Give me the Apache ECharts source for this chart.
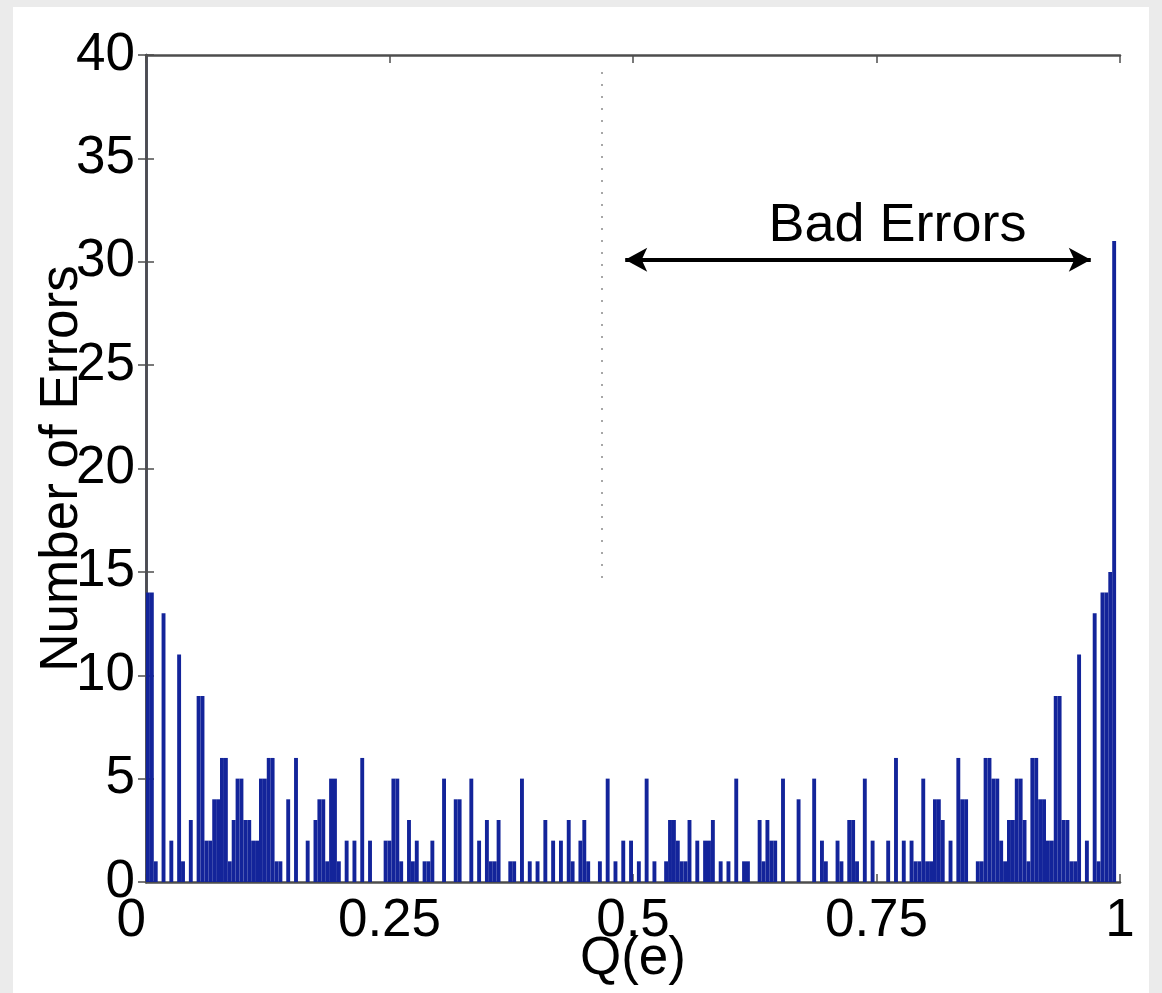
<!DOCTYPE html>
<html>
<head>
<meta charset="utf-8">
<title>Number of Errors vs Q(e)</title>
<script src="https://cdn.jsdelivr.net/npm/echarts@6/dist/echarts.min.js"></script>
<style>
  html, body { margin: 0; padding: 0; background: #ebebeb; }
  #paper { position: absolute; left: 13px; top: 7px; width: 1136px; height: 986px; background: #fff; }
  #chart { position: absolute; left: 0; top: 0; width: 1162px; height: 993px; }
</style>
</head>
<body>
<div id="paper"></div>
<div id="chart"></div>
<script>
// histogram of Q(e): 250 bins of width 0.004, counts
const counts = [
  14, 14, 1, 0, 13, 0, 2, 0, 11, 1,
  0, 3, 0, 9, 9, 2, 2, 4, 4, 6,
  6, 1, 3, 5, 5, 3, 3, 2, 2, 5,
  5, 6, 6, 1, 1, 0, 4, 0, 6, 0,
  0, 2, 0, 3, 4, 4, 1, 5, 5, 1,
  0, 2, 0, 2, 0, 6, 0, 2, 0, 0,
  0, 2, 2, 5, 5, 1, 0, 3, 1, 2,
  0, 1, 1, 2, 0, 0, 5, 0, 0, 4,
  4, 0, 0, 5, 0, 2, 0, 3, 1, 1,
  3, 0, 0, 1, 1, 0, 5, 0, 1, 0,
  1, 0, 3, 0, 2, 0, 2, 0, 3, 1,
  0, 2, 3, 1, 0, 0, 1, 0, 5, 0,
  1, 0, 2, 0, 2, 0, 1, 0, 5, 0,
  1, 0, 0, 1, 3, 3, 2, 1, 1, 3,
  0, 2, 0, 2, 2, 3, 0, 1, 0, 1,
  0, 5, 0, 1, 1, 0, 0, 3, 1, 3,
  2, 2, 0, 5, 0, 0, 0, 4, 0, 0,
  0, 5, 0, 2, 1, 0, 0, 2, 1, 0,
  3, 3, 1, 0, 5, 0, 2, 0, 0, 0,
  2, 0, 6, 0, 2, 0, 2, 1, 1, 5,
  1, 1, 4, 4, 3, 0, 2, 0, 6, 4,
  4, 0, 0, 1, 1, 6, 6, 5, 5, 2,
  1, 3, 3, 5, 5, 3, 1, 6, 6, 4,
  4, 2, 2, 9, 9, 3, 3, 1, 1, 11,
  0, 2, 0, 13, 1, 14, 14, 15, 31, 0
];
const bins = counts.map((c, i) => ((i + 0.5) / counts.length).toFixed(3));

const xTicks = [0, 0.25, 0.5, 0.75, 1];
const yTicks = [0, 5, 10, 15, 20, 25, 30, 35, 40];

// dotted separator and the "Bad Errors" arrow, in data units
const cutLine = [[0.468, 14.7], [0.468, 39.2]];
const badArrow = [[0.492, 30.1], [0.970, 30.1]];
const badLabel = [0.772, 31.7];

const font = 'Liberation Sans, Arial, Helvetica, sans-serif';
const axisColor = '#4d4d4d';
const fs = 53;

const chart = echarts.init(document.getElementById('chart'));

chart.setOption({
  animation: false,
  grid: { left: 146, top: 55, width: 974, height: 827, containLabel: false, outerBoundsMode: 'none' },
  xAxis: [
    {
      type: 'value',
      min: xTicks[0], max: xTicks[xTicks.length - 1], interval: 0.25,
      position: 'bottom',
      name: 'Q(e)', nameLocation: 'middle', nameGap: 51, nameMoveOverlap: false,
      nameTextStyle: { fontFamily: font, fontSize: fs, color: '#000' },
      axisLine: { lineStyle: { color: axisColor, width: 2.5 } },
      axisTick: { inside: true, length: 8, lineStyle: { color: axisColor, width: 1.5 } },
      axisLabel: { fontFamily: font, fontSize: fs, color: '#000', margin: 13, alignMinLabel: 'right' },
      splitLine: { show: false }
    },
    {
      type: 'category',
      data: bins,
      show: false
    },
    {
      type: 'value',
      min: xTicks[0], max: xTicks[xTicks.length - 1], interval: 0.25,
      position: 'top',
      axisLine: { lineStyle: { color: axisColor, width: 2.5 } },
      axisTick: { inside: true, length: 8, lineStyle: { color: axisColor, width: 1.5 } },
      axisLabel: { show: false },
      splitLine: { show: false }
    }
  ],
  yAxis: [
    {
      type: 'value',
      min: yTicks[0], max: yTicks[yTicks.length - 1], interval: 5,
      position: 'left',
      name: 'Number of Errors', nameLocation: 'middle', nameGap: 57, nameMoveOverlap: false,
      nameTextStyle: { fontFamily: font, fontSize: fs, color: '#000' },
      axisLine: { show: true, lineStyle: { color: '#2a2f6a', width: 2.5 } },
      axisTick: { show: true, inside: true, length: 8, lineStyle: { color: axisColor, width: 1.5 } },
      axisLabel: { fontFamily: font, fontSize: fs, color: '#000', margin: 11 },
      splitLine: { show: false }
    },
    {
      type: 'value',
      min: yTicks[0], max: yTicks[yTicks.length - 1], interval: 5,
      position: 'right',
      axisLine: { show: true, lineStyle: { color: axisColor, width: 2.5 } },
      axisTick: { show: true, inside: true, length: 8, lineStyle: { color: axisColor, width: 1.5 } },
      axisLabel: { show: false },
      splitLine: { show: false }
    }
  ],
  series: [
    {
      type: 'bar',
      xAxisIndex: 1,
      yAxisIndex: 0,
      data: counts,
      barCategoryGap: '0%',
      itemStyle: { color: '#13249a' },
      z: 1
    },
    {
      type: 'line',
      xAxisIndex: 0,
      yAxisIndex: 0,
      data: [],
      silent: true,
      markLine: {
        silent: true,
        animation: false,
        data: [
          [
            { coord: cutLine[0], symbol: 'none', lineStyle: { type: [2, 10], color: '#8a8a8a', width: 1.5 } },
            { coord: cutLine[1], symbol: 'none' }
          ],
          [
            { coord: badArrow[0], symbol: 'arrow', symbolSize: [18, 22], lineStyle: { type: 'solid', color: '#000', width: 4 } },
            { coord: badArrow[1], symbol: 'arrow', symbolSize: [18, 22] }
          ]
        ],
        label: { show: false }
      }
    },
    {
      type: 'scatter',
      xAxisIndex: 0,
      yAxisIndex: 0,
      data: [badLabel],
      symbolSize: 1,
      silent: true,
      itemStyle: { color: 'rgba(0,0,0,0)' },
      label: {
        show: true,
        position: [0, 0],
        align: 'center',
        verticalAlign: 'middle',
        formatter: 'Bad Errors',
        fontFamily: font,
        fontSize: 54,
        color: '#000',
        opacity: 1
      }
    }
  ]
});
</script>
</body>
</html>
